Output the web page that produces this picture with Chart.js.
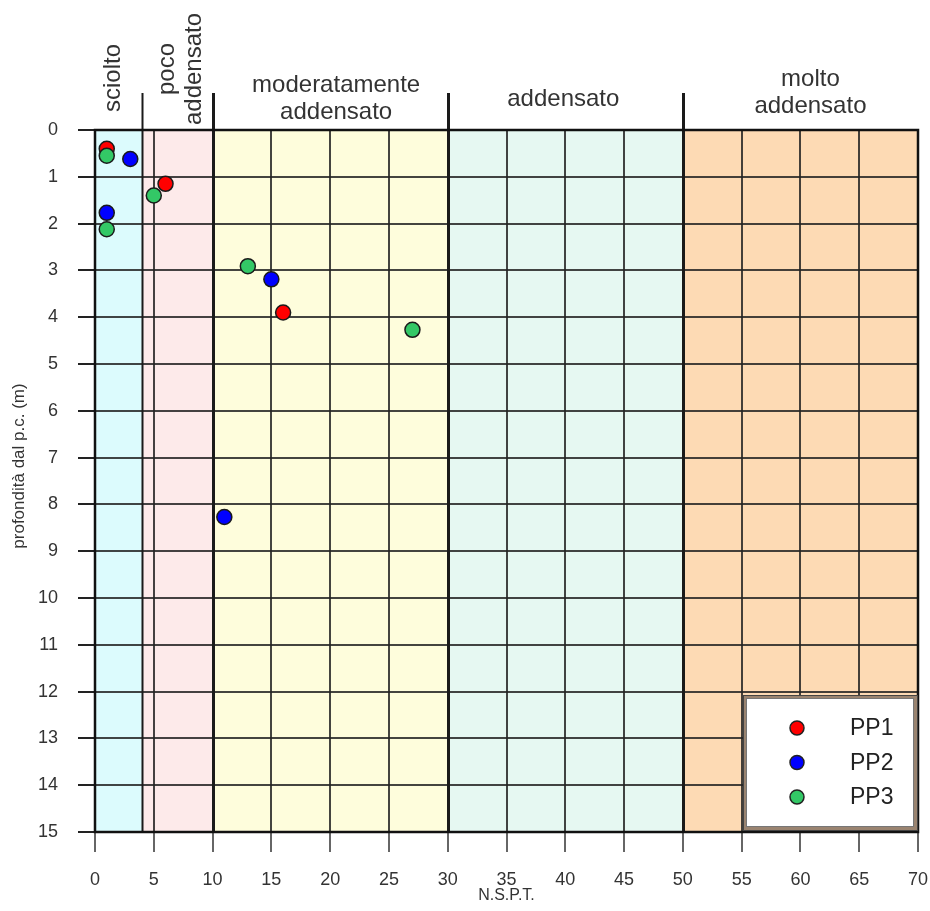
<!DOCTYPE html>
<html>
<head>
<meta charset="utf-8">
<script src="https://cdn.jsdelivr.net/npm/chart.js@4/dist/chart.umd.min.js"></script>
<style>
  body { margin: 0; background: #fff; }
  #wrap { width: 930px; height: 911px; }
</style>
</head>
<body>
<div id="wrap"><canvas id="myChart" width="930" height="911"></canvas></div>
<script>
// N.S.P.T. vs depth for each test
const seriesNames = ["PP1", "PP2", "PP3"];
const pp1Nspt = [1, 6, 16];
const pp1Depth = [0.4, 1.15, 3.9];
const pp2Nspt = [3, 1, 15, 11];
const pp2Depth = [0.62, 1.77, 3.19, 8.27];
const pp3Nspt = [1, 5, 1, 13, 27];
const pp3Depth = [0.55, 1.4, 2.12, 2.91, 4.27];

// density classes
const zoneFrom = [0, 4, 10, 30, 50];
const zoneTo = [4, 10, 30, 50, 70];
const zoneLabels = [["sciolto"], ["poco", "addensato"], ["moderatamente", "addensato"], ["addensato"], ["molto", "addensato"]];

const xTickMin = 0, xTickMax = 70, xTickStep = 5;
const yTickMin = 0, yTickMax = 15, yTickStep = 1;
const xTitle = "N.S.P.T.";
const yTitle = "profondità dal p.c. (m)";

const zoneColors = ["#dcfbfd", "#fdeaea", "#fefddc", "#e6f8f2", "#fddab4"];
const pointColors = ["#ff0000", "#0000ff", "#33c866"];
const FONT = "'Liberation Sans', Arial, sans-serif";

function toPoints(xs, ys) {
  return xs.map((v, i) => ({ x: v, y: ys[i] }));
}

const zonePlugin = {
  id: "zones",
  beforeDraw(chart) {
    const { ctx, chartArea: a, scales: { x } } = chart;
    ctx.save();
    zoneFrom.forEach((f, i) => {
      const x0 = x.getPixelForValue(f), x1 = x.getPixelForValue(zoneTo[i]);
      ctx.fillStyle = zoneColors[i];
      ctx.fillRect(x0, a.top, x1 - x0, a.bottom - a.top);
    });
    ctx.restore();
  },
  beforeDatasetsDraw(chart) {
    const { ctx, chartArea: a, scales: { x } } = chart;
    ctx.save();
    ctx.strokeStyle = "#1a1a1a";
    zoneFrom.slice(1).forEach(v => {
      const px = Math.round(x.getPixelForValue(v)) + 0.5;
      ctx.lineWidth = v === 4 ? 2 : 3;
      ctx.beginPath();
      ctx.moveTo(px, a.top - 37);
      ctx.lineTo(px, a.bottom);
      ctx.stroke();
    });
    ctx.lineWidth = 2.5;
    ctx.strokeStyle = "#111";
    ctx.strokeRect(a.left, a.top, a.right - a.left, a.bottom - a.top);
    ctx.restore();
  },
  afterDraw(chart) {
    const { ctx, chartArea: a, scales: { x } } = chart;
    ctx.save();
    ctx.fillStyle = "#333";
    ctx.font = "24px " + FONT;
    ctx.textAlign = "center";
    ctx.textBaseline = "middle";
    // header labels
    const nudge = [[-5, -52], [4, -61], [6, -31], [-2, -31], [10, -37]];
    zoneLabels.forEach((lines, i) => {
      const cx = (x.getPixelForValue(zoneFrom[i]) + x.getPixelForValue(zoneTo[i])) / 2 + nudge[i][0];
      const cy = a.top + nudge[i][1];
      const rotate = zoneTo[i] - zoneFrom[i] < 10;
      ctx.save();
      ctx.translate(cx, cy);
      if (rotate) ctx.rotate(-Math.PI / 2);
      lines.forEach((t, j) => {
        ctx.fillText(t, 0, (j - (lines.length - 1) / 2) * 27);
      });
      ctx.restore();
    });

    // y axis title
    ctx.save();
    ctx.font = "17px " + FONT;
    ctx.translate(19, 466);
    ctx.rotate(-Math.PI / 2);
    ctx.fillText(yTitle, 0, 0);
    ctx.restore();

    // legend box
    const w = 175, h = 136;
    const bx = a.right - w, by = a.bottom - h - 1;
    ctx.fillStyle = "#9a8470";
    ctx.fillRect(bx, by, w, h);
    ctx.strokeStyle = "#444";
    ctx.lineWidth = 1;
    ctx.strokeRect(bx + 0.5, by + 0.5, w - 1, h - 1);
    ctx.fillStyle = "#fff";
    ctx.fillRect(bx + 3, by + 3, w - 7, h - 7);
    ctx.strokeStyle = "#777";
    ctx.strokeRect(bx + 3.5, by + 3.5, w - 8, h - 8);
    ctx.font = "23px " + FONT;
    ctx.textAlign = "left";
    chart.data.datasets.forEach((ds, i) => {
      const ly = by + 33 + i * 34.5;
      ctx.beginPath();
      ctx.arc(bx + 54, ly, 7, 0, Math.PI * 2);
      ctx.fillStyle = ds.backgroundColor;
      ctx.fill();
      ctx.lineWidth = 1.5;
      ctx.strokeStyle = "#222";
      ctx.stroke();
      ctx.fillStyle = "#222";
      ctx.fillText(ds.label, bx + 107, ly + 1);
    });
    ctx.restore();
  }
};

const seriesData = [toPoints(pp1Nspt, pp1Depth), toPoints(pp2Nspt, pp2Depth), toPoints(pp3Nspt, pp3Depth)];

let ctx = document.getElementById("myChart").getContext("2d");
let myChart = new Chart(ctx, {
  type: "scatter",
  data: {
    datasets: seriesNames.map((name, i) => ({
      label: name,
      data: seriesData[i],
      backgroundColor: pointColors[i],
      borderColor: "#1a1a1a",
      borderWidth: 1.5,
      pointRadius: 7.5,
      order: 3 - i
    }))
  },
  options: {
    responsive: false,
    animation: false,
    layout: { padding: { top: 130, right: 12, left: 0, bottom: 0 } },
    plugins: { legend: { display: false }, tooltip: { enabled: false } },
    scales: {
      x: {
        type: "linear",
        min: xTickMin,
        max: xTickMax,
        afterFit(scale) {
          scale.height = 79;
          scale.paddingLeft = 0;
          scale.paddingRight = 0;
        },
        ticks: { stepSize: xTickStep, autoSkip: false, maxRotation: 0, padding: 17, color: "#333", font: { family: FONT, size: 18 } },
        grid: {
          color: "rgba(35,35,35,0.85)",
          lineWidth: 2,
          tickLength: 20,
          tickColor: "#666",
          tickWidth: 2
        },
        border: { display: false },
        title: { display: true, text: xTitle, color: "#333", font: { family: FONT, size: 16 }, padding: { top: 0, bottom: 6 } }
      },
      y: {
        type: "linear",
        reverse: true,
        min: yTickMin,
        max: yTickMax,
        afterFit(scale) { scale.width = 95; },
        ticks: { stepSize: yTickStep, autoSkip: false, padding: 20, color: "#333", font: { family: FONT, size: 18 } },
        grid: {
          color: "rgba(35,35,35,0.85)",
          lineWidth: 2,
          tickLength: 17,
          tickColor: "#222",
          tickWidth: 2
        },
        border: { display: false }
      }
    }
  },
  plugins: [zonePlugin]
});
</script>
</body>
</html>
